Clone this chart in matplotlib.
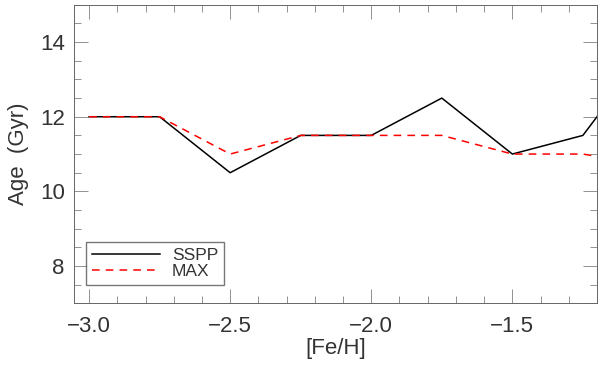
import matplotlib
matplotlib.use("Agg")
import matplotlib.pyplot as plt
from matplotlib.ticker import MultipleLocator

## --Data
feh = [-3.0, -2.75, -2.5, -2.25, -2.0, -1.75, -1.5, -1.25, -1.0]
age_sspp = [12.0, 12.0, 10.5, 11.5, 11.5, 12.5, 11.0, 11.5, 14.0]
age_max = [12.0, 12.0, 11.0, 11.5, 11.5, 11.5, 11.0, 11.0, 10.7]

plt.rcParams['font.family'] = ['Liberation Sans', 'DejaVu Sans']
grey = '#666666'
txt = '#333333'

fig = plt.figure(figsize=(6, 3.69), dpi=100)
ax = fig.add_axes([0.124, 0.178, 0.871, 0.809])

ax.plot(feh, age_sspp, color='black', lw=1.1, label='SSPP')
ax.plot(feh, age_max, color='red', lw=1.1, ls=(0, (5, 4)), label='MAX')

ax.set_xlim(-3.052, -1.2)
ax.set_ylim(7, 15)
ax.xaxis.set_major_locator(MultipleLocator(0.5))
ax.xaxis.set_minor_locator(MultipleLocator(0.1))
ax.yaxis.set_major_locator(MultipleLocator(2))
ax.yaxis.set_minor_locator(MultipleLocator(0.5))
ax.xaxis.set_major_formatter(matplotlib.ticker.FuncFormatter(lambda v, p: '\u2212%.1f' % abs(v)))

ax.tick_params(which='both', direction='in', top=True, right=True,
               color=grey, width=0.5, labelsize=16, labelcolor=txt)
ax.tick_params(axis='x', pad=9)
ax.tick_params(axis='y', pad=7)
ax.tick_params(which='major', length=10)
ax.tick_params(which='minor', length=5)
for s in ax.spines.values():
    s.set_color(grey)
    s.set_linewidth(0.7)

ax.set_xlabel('[Fe/H]', fontsize=16, color=txt, labelpad=1)
ax.set_ylabel('Age  (Gyr)', fontsize=16, color=txt, labelpad=8)

leg = ax.legend(loc='lower left', bbox_to_anchor=(0.022, 0.06), fontsize=12.5,
                frameon=True, fancybox=False, handlelength=3.9, borderpad=0.35,
                labelspacing=0.05, handletextpad=0.7, borderaxespad=0)
leg.get_frame().set_edgecolor('#555555')
leg.get_frame().set_linewidth(1.0)
for t in leg.get_texts():
    t.set_color(txt)

plt.savefig("out.png", dpi=100)
